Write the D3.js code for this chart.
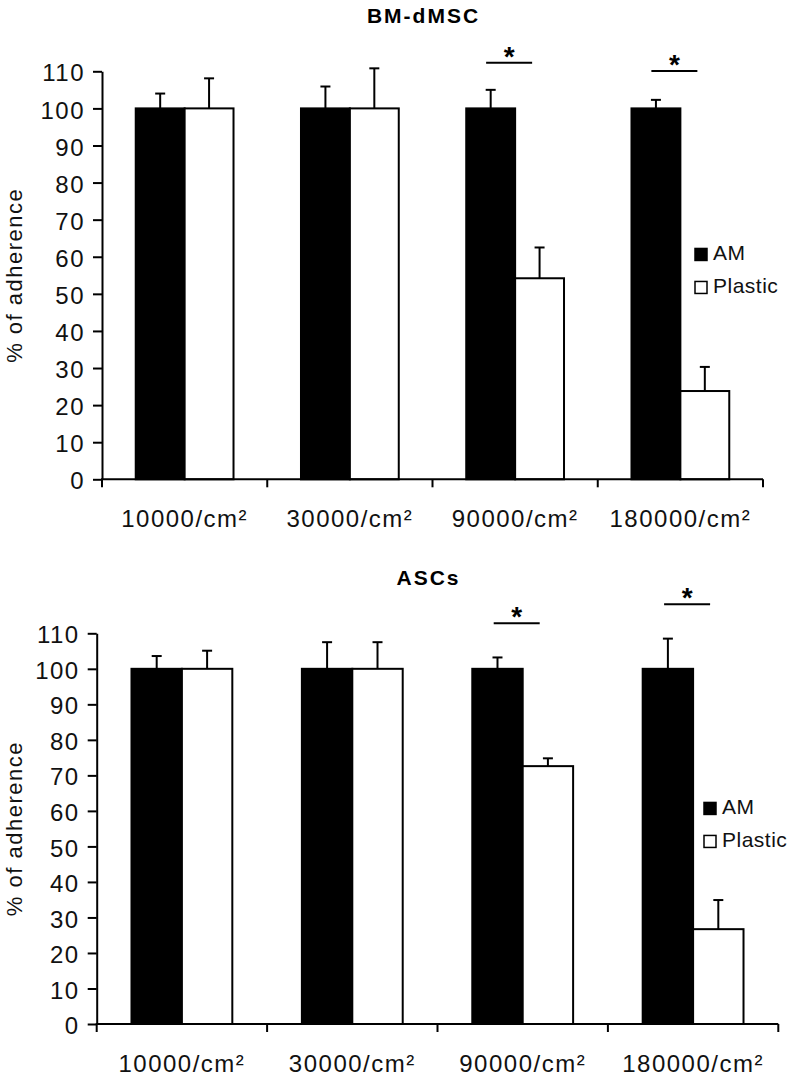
<!DOCTYPE html>
<html>
<head>
<meta charset="utf-8">
<script src="https://cdn.jsdelivr.net/npm/d3@7"></script>
<style>
  body { margin: 0; background: #fff; }
  svg { display: block; font-family: "Liberation Sans", Arial, sans-serif; }
</style>
</head>
<body>
<svg id="chart"></svg>
<script>
// data
const categories = ["10000/cm²", "30000/cm²", "90000/cm²", "180000/cm²"];
const series = ["AM", "Plastic"];
const yTicks = [0, 10, 20, 30, 40, 50, 60, 70, 80, 90, 100, 110];

const bmAM = [100, 100, 100, 100];
const bmAMErr = [4.0, 5.9, 5.0, 2.3];
const bmPlastic = [100, 100, 54.2, 23.8];
const bmPlasticErr = [8.1, 10.8, 8.3, 6.5];
const bmSig = [["90000/cm²", 112.3], ["180000/cm²", 110.1]];

const ascAM = [100, 100, 100, 100];
const ascAMErr = [3.6, 7.5, 3.2, 8.5];
const ascPlastic = [100, 100, 72.6, 26.7];
const ascPlasticErr = [5.1, 7.5, 2.2, 8.2];
const ascSig = [["90000/cm²", 112.8], ["180000/cm²", 118.2]];

class GroupedBarChart {

  constructor(options = {}) {
    this.svg = options.svg;
    this.title = options.title;
    this.left = options.left;
    this.right = options.right;
    this.top = options.top;
    this.bottom = options.bottom;
    this.legendX = options.legendX;
  }

  create(am, amErr, plastic, plasticErr, sig) {
    this.rows = categories.map((c, i) => ({
      cat: c,
      vals: [
        { key: "AM", v: am[i], e: amErr[i] },
        { key: "Plastic", v: plastic[i], e: plasticErr[i] }
      ]
    }));
    this.sig = sig;
    this.setScales();
    this.drawBars();
    this.drawAxes();
    this.drawSig();
    this.drawLegend();
    this.drawLabels();
  }

  setScales() {
    this.x = d3.scaleBand().domain(categories).range([this.left, this.right]);
    this.x1 = d3.scaleBand().domain(series)
                .range([0, this.x.bandwidth()])
                .paddingInner(0).paddingOuter(0.69);
    this.y = d3.scaleLinear().domain([0, 110]).range([this.bottom, this.top]);
  }

  drawBars() {
    const self = this;
    const g = this.svg.append('g');
    const grp = g.selectAll('g.grp')
                 .data(this.rows)
                 .enter()
                 .append('g')
                 .attr('transform', d => `translate(${self.x(d.cat)},0)`);

    const bar = grp.selectAll('g.bar')
                   .data(d => d.vals)
                   .enter()
                   .append('g');

    // error bars (upper only)
    bar.append('line')
       .attr('x1', d => self.x1(d.key) + self.x1.bandwidth() / 2)
       .attr('x2', d => self.x1(d.key) + self.x1.bandwidth() / 2)
       .attr('y1', d => self.y(d.v))
       .attr('y2', d => self.y(d.v + d.e))
       .attr('stroke', '#000').attr('stroke-width', 2);
    bar.append('line')
       .attr('x1', d => self.x1(d.key) + self.x1.bandwidth() / 2 - 5)
       .attr('x2', d => self.x1(d.key) + self.x1.bandwidth() / 2 + 5)
       .attr('y1', d => self.y(d.v + d.e))
       .attr('y2', d => self.y(d.v + d.e))
       .attr('stroke', '#000').attr('stroke-width', 2);

    bar.append('rect')
       .attr('x', d => self.x1(d.key))
       .attr('y', d => self.y(d.v))
       .attr('width', self.x1.bandwidth())
       .attr('height', d => self.y(0) - self.y(d.v))
       .attr('fill', d => d.key === "AM" ? '#000' : '#fff')
       .attr('stroke', '#000')
       .attr('stroke-width', 2);
  }

  drawAxes() {
    const yAxis = d3.axisLeft(this.y)
                    .tickValues(yTicks)
                    .tickSize(9)
                    .tickSizeOuter(0)
                    .tickPadding(8);
    const ga = this.svg.append('g')
                   .attr('transform', `translate(${this.left},0)`)
                   .call(yAxis);
    ga.selectAll('path, line').attr('stroke', '#000').attr('stroke-width', 2);
    ga.selectAll('text')
      .attr('font-size', 24).attr('letter-spacing', 1.5)
      .attr('dy', '0.4em').attr('fill', '#111');

    const xAxis = d3.axisBottom(this.x).tickSize(0).tickPadding(31);
    const gx = this.svg.append('g')
                   .attr('transform', `translate(0,${this.y(0)})`)
                   .call(xAxis);
    gx.select('.domain').remove();
    gx.selectAll('text')
      .attr('font-size', 24).attr('letter-spacing', 1.5).attr('fill', '#111');

    gx.append('line')
      .attr('x1', this.left - 1).attr('x2', this.right)
      .attr('stroke', '#000').attr('stroke-width', 2);
    const edges = categories.map(c => this.x(c)).concat([this.right]);
    gx.selectAll('line.edge')
      .data(edges)
      .enter()
      .append('line')
      .attr('x1', d => d).attr('x2', d => d)
      .attr('y1', 0).attr('y2', 8)
      .attr('stroke', '#000').attr('stroke-width', 2);
  }

  drawSig() {
    const self = this;
    const s = this.svg.append('g');
    const cx = d => self.x(d[0]) + self.x.bandwidth() / 2 - 6;
    s.selectAll('line')
     .data(this.sig)
     .enter()
     .append('line')
     .attr('x1', d => cx(d) - 23).attr('x2', d => cx(d) + 23)
     .attr('y1', d => self.y(d[1])).attr('y2', d => self.y(d[1]))
     .attr('stroke', '#000').attr('stroke-width', 2);
    s.selectAll('text')
     .data(this.sig)
     .enter()
     .append('text')
     .attr('x', d => cx(d))
     .attr('y', d => self.y(d[1]) + 3)
     .attr('text-anchor', 'middle')
     .attr('font-size', 28)
     .attr('font-weight', 'bold')
     .text('*');
  }

  drawLegend() {
    const lg = this.svg.append('g')
                   .attr('transform', `translate(${this.legendX},${this.y(59)})`);
    const item = lg.selectAll('g')
                   .data(series)
                   .enter()
                   .append('g')
                   .attr('transform', (d, i) => `translate(0,${i * 33})`);
    item.append('rect')
        .attr('x', 1).attr('y', -12)
        .attr('width', 12).attr('height', 12)
        .attr('fill', d => d === "AM" ? '#000' : '#fff')
        .attr('stroke', '#000').attr('stroke-width', 1.5);
    item.append('text')
        .attr('x', 19).attr('y', 0)
        .attr('font-size', 21).attr('letter-spacing', 0.5)
        .attr('fill', '#111')
        .text(d => d);
  }

  drawLabels() {
    const midY = (this.top + this.bottom) / 2;
    this.svg.append('text')
        .attr('transform', `translate(22,${midY}) rotate(-90)`)
        .attr('text-anchor', 'middle')
        .attr('font-size', 22).attr('letter-spacing', 1.5)
        .attr('fill', '#111')
        .text('% of adherence');

    this.svg.append('text')
        .attr('x', (this.left + this.right) / 2 - 9)
        .attr('y', this.top - 48)
        .attr('text-anchor', 'middle')
        .attr('font-size', 21).attr('font-weight', 'bold')
        .attr('letter-spacing', 2)
        .text(this.title);
  }
}

const svg = d3.select('#chart').attr('width', 792).attr('height', 1076);

new GroupedBarChart({ svg: svg, title: "BM-dMSC", left: 102, right: 763, top: 71.3, bottom: 479.3, legendX: 694 })
  .create(bmAM, bmAMErr, bmPlastic, bmPlasticErr, bmSig);

new GroupedBarChart({ svg: svg, title: "ASCs", left: 96.7, right: 778.3, top: 633.3, bottom: 1024, legendX: 703 })
  .create(ascAM, ascAMErr, ascPlastic, ascPlasticErr, ascSig);
</script>
</body>
</html>
